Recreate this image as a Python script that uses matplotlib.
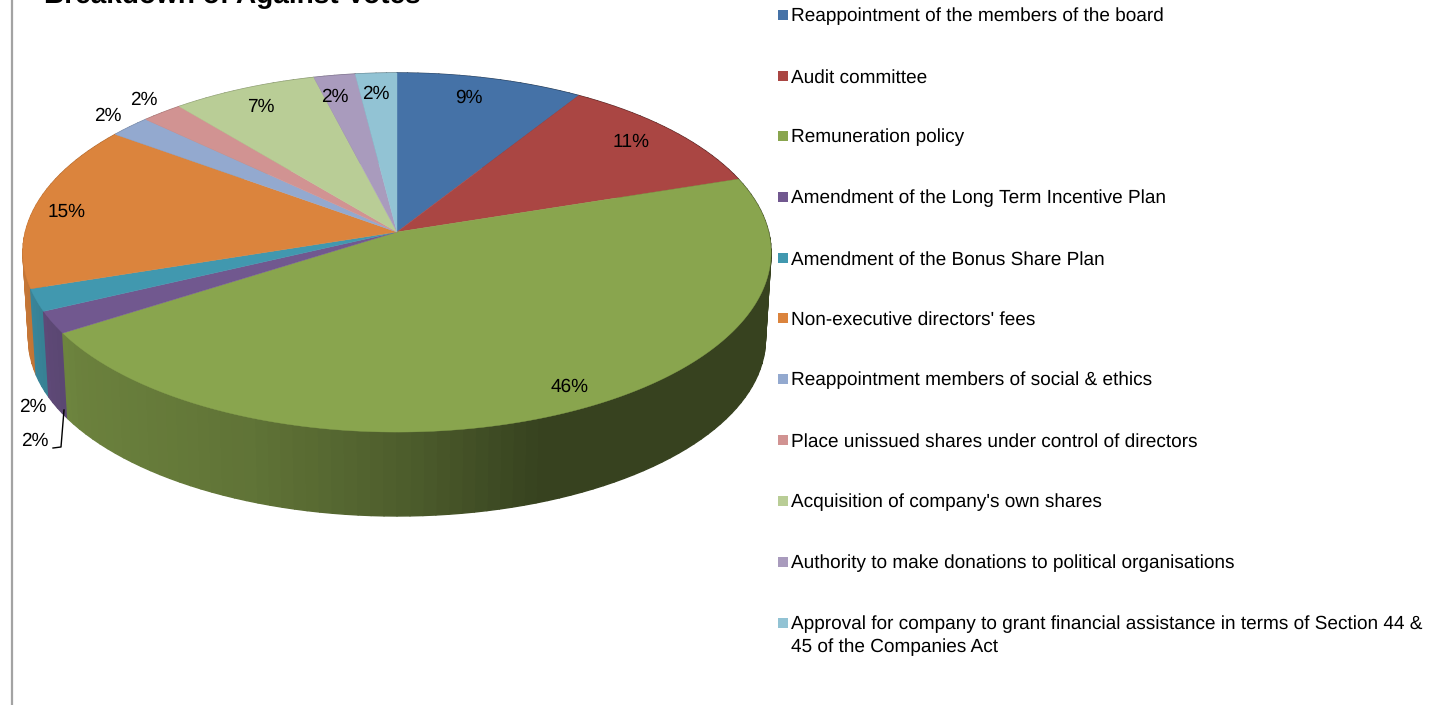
import numpy as np
import matplotlib
matplotlib.use("Agg")
import matplotlib.pyplot as plt
from matplotlib.collections import PolyCollection
from matplotlib.colors import to_rgb
from matplotlib.patches import Rectangle

plt.rcParams['font.family'] = ['Liberation Sans', 'DejaVu Sans']
plt.rcParams['text.hinting'] = 'none'
plt.rcParams['text.hinting_factor'] = 1

# Share of against votes per resolution, in percent
categories = [
    "Reappointment of the members of the board",
    "Audit committee",
    "Remuneration policy",
    "Amendment of the Long Term Incentive Plan",
    "Amendment of the Bonus Share Plan",
    "Non-executive directors' fees",
    "Reappointment members of social & ethics",
    "Place unissued shares under control of directors",
    "Acquisition of company's own shares",
    "Authority to make donations to political organisations",
    "Approval for company to grant financial assistance in terms of Section 44 &\n45 of the Companies Act",
]
values = [9, 11, 46, 2, 2, 15, 2, 2, 7, 2, 2]
colors = ["#4572A7", "#AA4643", "#89A54E", "#71588F", "#4198AF", "#DB843D",
          "#93A9CF", "#D19392", "#B9CD96", "#A99BBD", "#92C3D4"]

# Label anchor points in figure pixels
label_xy = [(469, 98), (631, 142), (570, 387), (35, 441), (33, 407), (67, 212),
            (108, 116), (144, 100), (261, 107), (335, 97), (376, 94)]
legend_y = [15, 76, 136, 197, 258, 318, 379, 440, 501, 562, 623]

W, H = 1437, 705
fig = plt.figure(figsize=(W / 100, H / 100), dpi=100)
ax = fig.add_axes([0, 0, 1, 1])
ax.set_xlim(0, W)
ax.set_ylim(H, 0)
ax.axis("off")

PERSP = 0.1142


def project(theta, r=1.0, cx=397.0, cy=232.0, a=177.2, b=371.6):
    """Perspective view of a point on the pie disc; theta runs clockwise from 12 o'clock."""
    u = r * np.sin(theta)
    v = r * np.cos(theta)
    w = 1 + PERSP * v
    return cx + b * u / w, cy - a * v / w


def project_base(theta):
    return project(theta, cy=319.0, a=174.5, b=366.0)


def wall_shade(x):
    return np.interp(x, [25, 50, 80, 250, 400, 540, 800],
                     [0.90, 0.82, 0.78, 0.70, 0.57, 0.40, 0.40])


edges = np.radians(np.concatenate([[0], np.cumsum(values)]) * 3.6)

# Side wall: narrow vertical strips, far ones first
strips, strip_colors, strip_depth = [], [], []
for i, col in enumerate(colors):
    rgb = np.array(to_rgb(col))
    n = max(2, int(values[i] * 2))
    t = np.linspace(edges[i], edges[i + 1], n + 1)
    for t0, t1 in zip(t[:-1], t[1:]):
        x0, y0 = project(t0)
        x1, y1 = project(t1)
        x2, y2 = project_base(t1)
        x3, y3 = project_base(t0)
        strips.append([(x0, y0), (x1, y1), (x2, y2), (x3, y3)])
        strip_colors.append(tuple(rgb * wall_shade((x0 + x1) / 2)))
        strip_depth.append(np.cos((t0 + t1) / 2))
order = np.argsort(strip_depth)[::-1]
ax.add_collection(PolyCollection([strips[k] for k in order],
                                 facecolors=[strip_colors[k] for k in order],
                                 edgecolors=[strip_colors[k] for k in order],
                                 linewidths=1.0, zorder=2))

# Top face of the pie
for i, col in enumerate(colors):
    t = np.linspace(edges[i], edges[i + 1], max(4, values[i] * 6))
    x, y = project(t)
    ax.fill(np.r_[397.0, x], np.r_[232.0, y], facecolor=col, edgecolor=col,
            linewidth=0.3, zorder=3)

# Percent labels
for v, (lx, ly) in zip(values, label_xy):
    ax.text(lx, ly, f"{v}%", fontsize=13.7, color="black", ha="center", va="center", zorder=5)

# Leader line of the small slice at the lower left
ax.plot([64, 61, 53], [410, 447, 448], color="black", lw=1.0, zorder=4)

# Legend column
for name, col, y in zip(categories, colors, legend_y):
    ax.add_patch(Rectangle((778, y - 5), 10, 10, facecolor=col, edgecolor="none", zorder=4))
    for k, line in enumerate(name.split("\n")):
        ax.text(791, y + 23 * k + 6.5, line, fontsize=13.7, color="black",
                ha="left", va="baseline", zorder=5)

# Title, clipped by the top edge of the canvas
ax.text(44, 3, "Breakdown of Against Votes", fontsize=19.9, fontweight="bold",
        color="black", ha="left", va="baseline", zorder=5)

# Chart frame: only its left side is in view
ax.plot([12, 12], [0, H], color="#a3a3a3", lw=1.6, zorder=1)

fig.savefig("out.png", dpi=100)
